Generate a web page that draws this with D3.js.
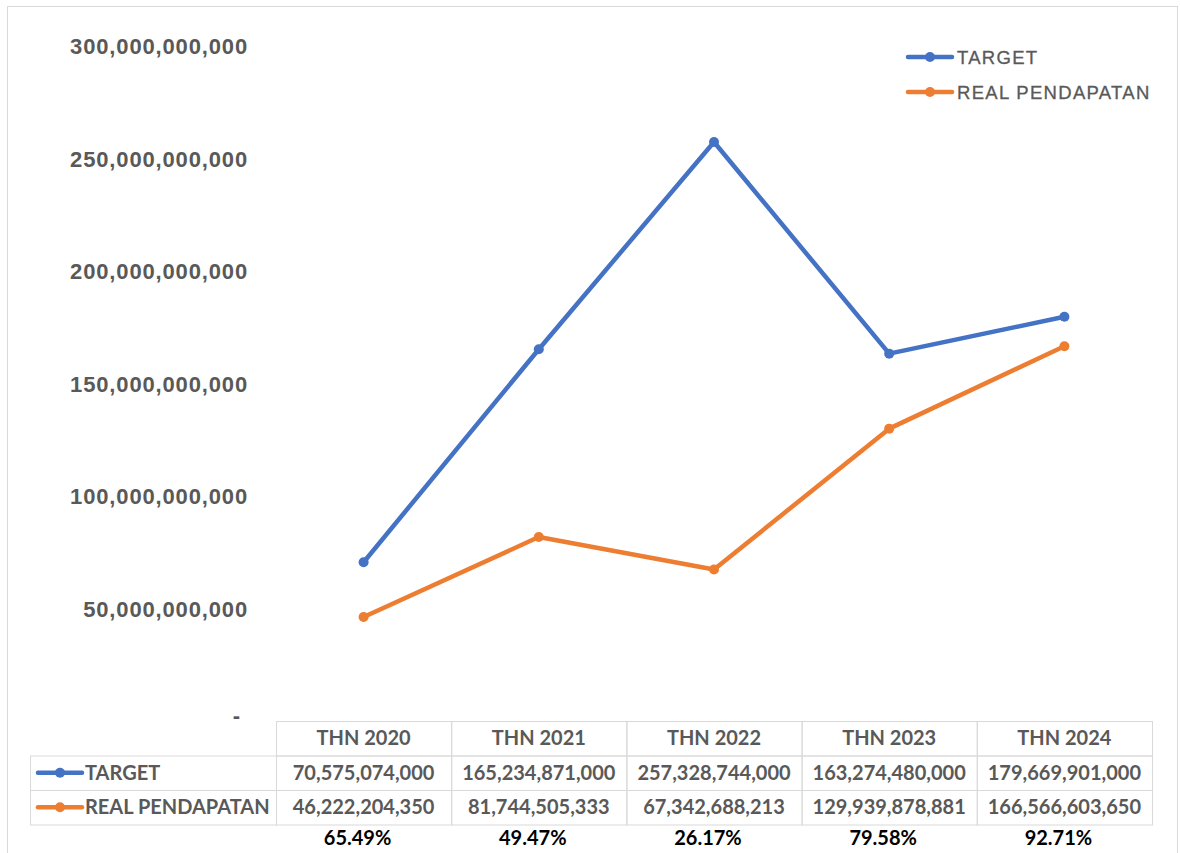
<!DOCTYPE html>
<html>
<head>
<meta charset="utf-8">
<script src="https://cdn.jsdelivr.net/npm/d3@7"></script>
<style>
  html, body { margin: 0; padding: 0; background: #fff; }
  svg { display: block; }
</style>
</head>
<body>
<svg id="chart" width="1180" height="853"></svg>
<script>
// Revenue target vs. realised revenue per year
const years = ["THN 2020", "THN 2021", "THN 2022", "THN 2023", "THN 2024"];
const target = [70575074000, 165234871000, 257328744000, 163274480000, 179669901000];
const realPendapatan = [46222204350, 81744505333, 67342688213, 129939878881, 166566603650];
const percentages = ["65.49%", "49.47%", "26.17%", "79.58%", "92.71%"];
const yTicks = [0, 50e9, 100e9, 150e9, 200e9, 250e9, 300e9];

const seriesList = [
  { name: "TARGET", values: target, color: "#4472C4" },
  { name: "REAL PENDAPATAN", values: realPendapatan, color: "#ED7D31" }
];

const svg = d3.select("#chart");
const W = 1180, H = 853;

// outer frame
svg.append("rect")
  .attr("x", 7.5).attr("y", 6.5).attr("width", W - 10).attr("height", H)
  .attr("fill", "#fff").attr("stroke", "#d9d9d9").attr("stroke-width", 1);

const tableLeft = 276, tableRight = 1152;
const labelLeft = 30;
const headTop = 721, rowH = 34.5;

const x = d3.scaleBand().domain(years).range([tableLeft, tableRight]);
const y = d3.scaleLinear().domain([0, 300e9]).range([721, 46]);

const fmt = d3.format(",");

// y-axis labels
const yAxis = d3.axisLeft(y).tickValues(yTicks)
  .tickFormat(d => d === 0 ? "-" : fmt(d)).tickSize(0).tickPadding(0);
const gy = svg.append("g").attr("transform", "translate(248,0)").call(yAxis);
gy.select(".domain").remove();
gy.selectAll("text")
  .attr("font-family", "Liberation Sans, Arial, sans-serif")
  .attr("font-weight", "bold").attr("font-size", 22).attr("letter-spacing", 0.85)
  .attr("fill", "#595959").attr("dy", "0.35em");
gy.selectAll(".tick").filter(d => d === 0).select("text")
  .attr("dx", -7).attr("dy", "0.05em");

// lines
const line = d3.line()
  .x((d, i) => x(years[i]) + x.bandwidth() / 2)
  .y(d => y(d));

seriesList.forEach(s => {
  svg.append("path").datum(s.values)
    .attr("d", line).attr("fill", "none")
    .attr("stroke", s.color).attr("stroke-width", 4.5)
    .attr("stroke-linejoin", "round").attr("stroke-linecap", "round");
  svg.append("g").selectAll("circle").data(s.values).join("circle")
    .attr("cx", (d, i) => x(years[i]) + x.bandwidth() / 2)
    .attr("cy", d => y(d)).attr("r", 5)
    .attr("fill", s.color);
});

// legend
const legend = svg.append("g").attr("transform", "translate(908,57)");
seriesList.forEach((s, i) => {
  const g = legend.append("g").attr("transform", `translate(0,${i * 35})`);
  g.append("line").attr("x1", 0).attr("x2", 44).attr("y1", 0).attr("y2", 0)
    .attr("stroke", s.color).attr("stroke-width", 4.5).attr("stroke-linecap", "round");
  g.append("circle").attr("cx", 22).attr("cy", 0).attr("r", 5).attr("fill", s.color);
  g.append("text").attr("x", 49).attr("y", 0).attr("dy", "0.36em")
    .attr("font-family", "Liberation Sans, Arial, sans-serif")
    .attr("font-size", 18.5).attr("fill", "#595959").attr("letter-spacing", 1.3)
    .attr("stroke", "#595959").attr("stroke-width", 0.3)
    .text(s.name);
});

// data table
const grid = "#d9d9d9";
const tbl = svg.append("g");
const cellFont = "Lato, 'Open Sans', sans-serif";
const cellSize = 20;

// header cells
tbl.selectAll("rect.head").data(years).join("rect")
  .attr("x", d => x(d) + 0.5).attr("y", headTop + 0.5)
  .attr("width", x.bandwidth()).attr("height", rowH)
  .attr("fill", "none").attr("stroke", grid);
tbl.selectAll("text.head").data(years).join("text")
  .attr("x", d => x(d) + x.bandwidth() / 2).attr("y", headTop + rowH / 2)
  .attr("dy", "0.36em").attr("text-anchor", "middle")
  .attr("font-family", cellFont).attr("font-weight", "bold").attr("font-size", cellSize)
  .attr("fill", "#595959").text(d => d);

// series rows
seriesList.forEach((s, r) => {
  const top = headTop + rowH * (r + 1);
  tbl.append("rect").attr("x", labelLeft + 0.5).attr("y", top + 0.5)
    .attr("width", tableLeft - labelLeft).attr("height", rowH)
    .attr("fill", "none").attr("stroke", grid);
  const cy = top + rowH / 2;
  tbl.append("line").attr("x1", 38).attr("x2", 82).attr("y1", cy).attr("y2", cy)
    .attr("stroke", s.color).attr("stroke-width", 4.5).attr("stroke-linecap", "round");
  tbl.append("circle").attr("cx", 60).attr("cy", cy).attr("r", 5).attr("fill", s.color);
  tbl.append("text").attr("x", 85).attr("y", cy).attr("dy", "0.36em")
    .attr("font-family", cellFont).attr("font-weight", "bold").attr("font-size", cellSize)
    .attr("fill", "#595959").text(s.name);

  tbl.append("g").selectAll("rect").data(s.values).join("rect")
    .attr("x", (d, i) => x(years[i]) + 0.5).attr("y", top + 0.5)
    .attr("width", x.bandwidth()).attr("height", rowH)
    .attr("fill", "none").attr("stroke", grid);
  tbl.append("g").selectAll("text").data(s.values).join("text")
    .attr("x", (d, i) => x(years[i]) + x.bandwidth() / 2).attr("y", cy)
    .attr("dy", "0.36em").attr("text-anchor", "middle")
    .attr("font-family", cellFont).attr("font-weight", "bold").attr("font-size", cellSize)
    .attr("fill", "#595959").text(d => fmt(d));
});

// achievement percentages
tbl.selectAll("text.pct").data(percentages).join("text")
  .attr("x", (d, i) => x(years[i]) + x.bandwidth() / 2 - 6)
  .attr("y", headTop + rowH * 3 + 13)
  .attr("dy", "0.36em").attr("text-anchor", "middle")
  .attr("font-family", cellFont).attr("font-weight", "bold").attr("font-size", cellSize)
  .attr("fill", "#000").text(d => d);
</script>
</body>
</html>
